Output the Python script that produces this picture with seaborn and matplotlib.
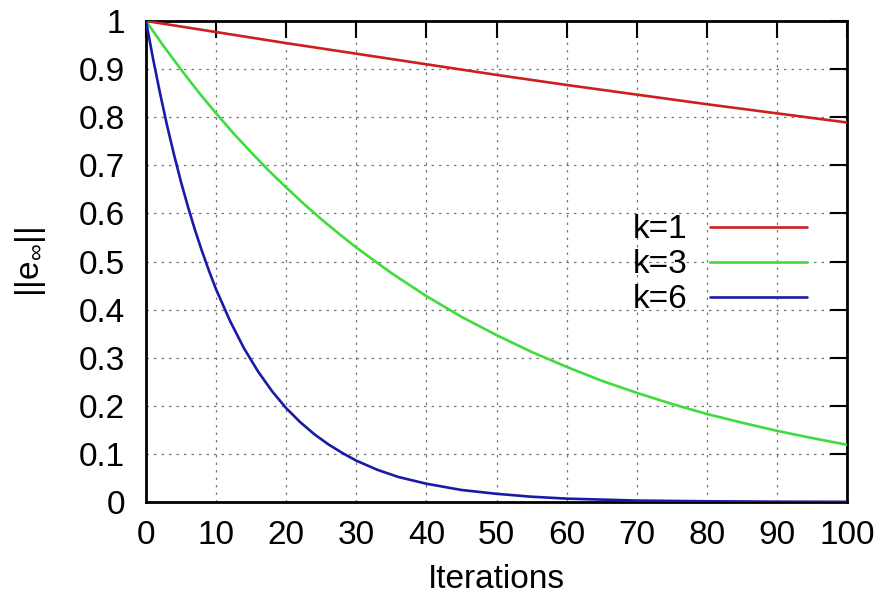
import matplotlib
matplotlib.use("Agg")
import matplotlib.pyplot as plt
import seaborn as sns
import pandas as pd

# ---- data ----
x_k1 = [0, 10, 20, 30, 40, 50, 60, 70, 80, 90, 100]
y_k1 = [1.0, 0.977, 0.954, 0.932, 0.910, 0.888, 0.867, 0.847, 0.827, 0.808, 0.789]

x_k3 = [0, 2.5, 5, 7.5, 10, 12.5, 15, 17.5, 20, 22.5, 25, 27.5, 30, 35, 40, 45, 50,
        55, 60, 65, 70, 75, 80, 85, 90, 95, 100]
y_k3 = [1.0, 0.948, 0.899, 0.852, 0.808, 0.766, 0.727, 0.689, 0.654, 0.620, 0.588,
        0.558, 0.529, 0.476, 0.428, 0.385, 0.347, 0.312, 0.281, 0.252, 0.227,
        0.204, 0.183, 0.165, 0.148, 0.133, 0.119]

x_k6 = [0, 1, 2, 3, 4, 5, 6, 7, 8, 9, 10, 12, 14, 16, 18, 20, 22, 24, 26, 28, 30,
        33, 36, 40, 45, 50, 55, 60, 70, 80, 90, 100]
y_k6 = [1.0, 0.922, 0.850, 0.783, 0.722, 0.665, 0.613, 0.565, 0.521, 0.480, 0.442,
        0.376, 0.319, 0.271, 0.230, 0.195, 0.166, 0.141, 0.120, 0.102, 0.086,
        0.067, 0.052, 0.038, 0.025, 0.017, 0.011, 0.007, 0.003, 0.0015, 0.0007,
        0.0003]

labels = ["k=1", "k=3", "k=6"]
colors = ["#cc1f1f", "#3fdc3f", "#1a1aa8"]
x_ticks = [0, 10, 20, 30, 40, 50, 60, 70, 80, 90, 100]
y_ticks = [0, 0.1, 0.2, 0.3, 0.4, 0.5, 0.6, 0.7, 0.8, 0.9, 1]
y_tick_labels = ["0", "0.1", "0.2", "0.3", "0.4", "0.5", "0.6", "0.7", "0.8", "0.9", "1"]

frames = []
for xs, ys, lab in zip([x_k1, x_k3, x_k6], [y_k1, y_k3, y_k6], labels):
    frames.append(pd.DataFrame({"x": xs, "y": ys, "k": lab}))
df = pd.concat(frames, ignore_index=True)

sns.set_style("white")
plt.rcParams["font.family"] = ["Liberation Sans", "DejaVu Sans"]
plt.rcParams["mathtext.fontset"] = "custom"
plt.rcParams["mathtext.rm"] = "Liberation Sans"
plt.rcParams["mathtext.it"] = "Liberation Sans"
plt.rcParams["text.color"] = "black"
plt.rcParams["axes.labelcolor"] = "black"

FS = 24

fig = plt.figure(figsize=(8.86, 6.10), dpi=100)
ax = fig.add_axes([146 / 886, 108 / 610, 701 / 886, 481 / 610])

sns.lineplot(data=df, x="x", y="y", hue="k", palette=dict(zip(labels, colors)),
             linewidth=1.9, ax=ax, sort=False, estimator=None, zorder=3)

ax.set_xlim(0, 100)
ax.set_ylim(0, 1)
ax.set_xticks(x_ticks)
ax.set_yticks(y_ticks)
ax.set_yticklabels(y_tick_labels)
ax.tick_params(axis="both", direction="in", length=12, width=1.5, labelsize=FS,
               top=True, right=True, colors="black")
ax.tick_params(axis="x", pad=13)
ax.tick_params(axis="y", pad=15)
ax.grid(True, linestyle=(0, (2, 4)), color="#555555", linewidth=0.9, alpha=0.8)
for s in ax.spines.values():
    s.set_visible(True)
    s.set_color("black")
    s.set_linewidth(2.0)

ax.set_xlabel("Iterations", fontsize=FS, labelpad=9, color="black")
ax.set_ylabel(r"||e$_{\infty}$||", fontsize=FS, labelpad=22, color="black")

leg = ax.legend(loc="center right", bbox_to_anchor=(0.943, 0.493), frameon=False,
                markerfirst=False, fontsize=FS, handlelength=2.9, handletextpad=0.7,
                labelspacing=0.12, borderaxespad=0, borderpad=0)
for line in leg.get_lines():
    line.set_linewidth(1.9)
for t in leg.get_texts():
    t.set_color("black")

fig.savefig("out.png", dpi=100)
